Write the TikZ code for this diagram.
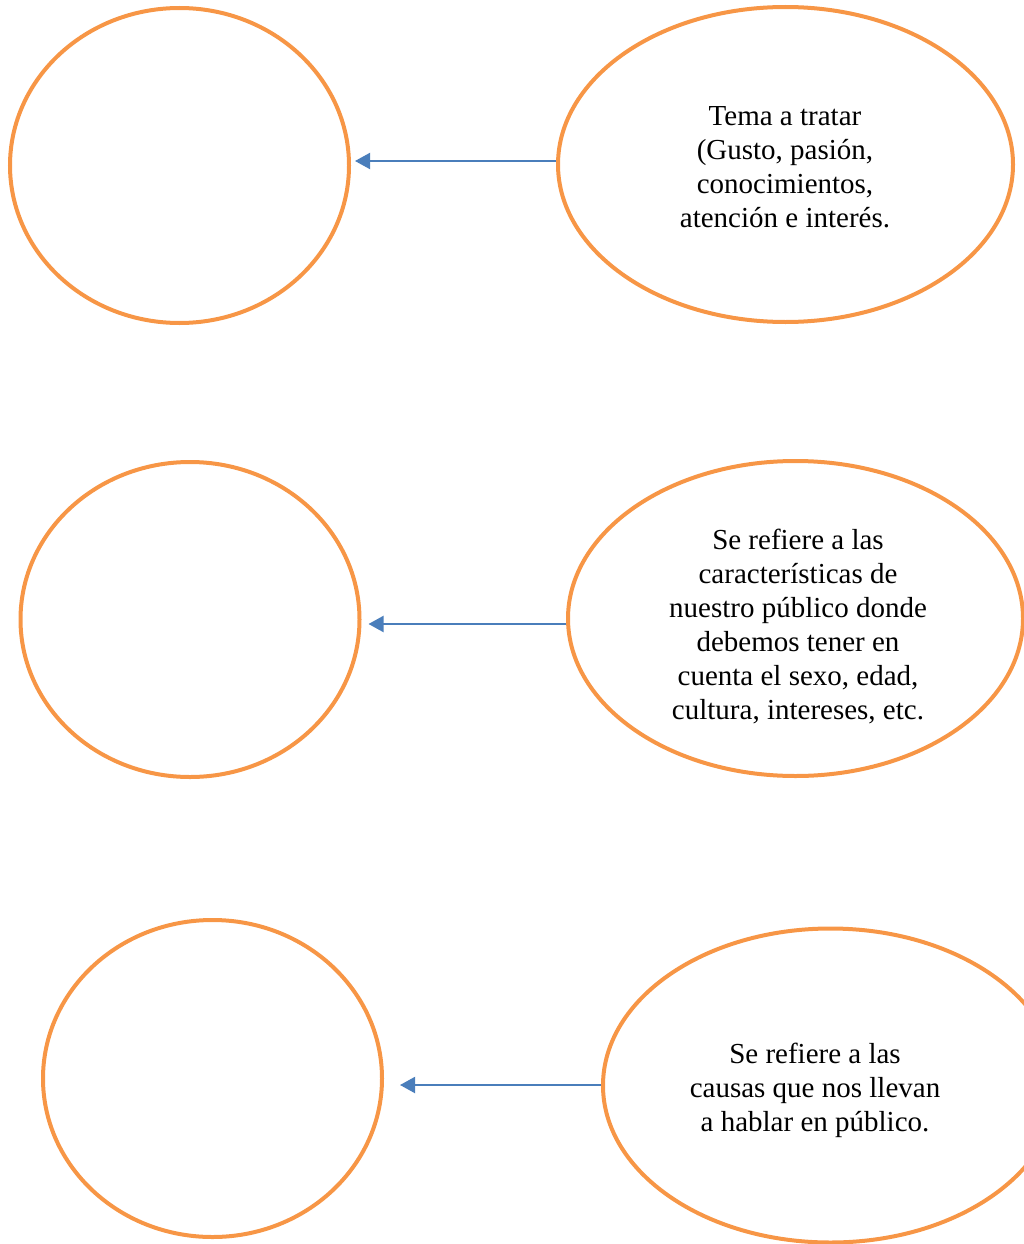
\documentclass[tikz,border=0pt]{standalone}
\usepackage{fontspec}
\setmainfont{Liberation Serif}
\usetikzlibrary{shapes.geometric,arrows.meta}
\definecolor{orng}{HTML}{F79646}
\definecolor{arblue}{HTML}{4A7EBB}
\begin{document}
\begin{tikzpicture}[x=1pt,y=-1pt,
  oval/.style={ellipse,draw=orng,line width=4pt,inner sep=0pt},
  smalloval/.style={oval,minimum width=339pt,minimum height=315pt},
  bigoval/.style={oval,minimum width=455pt,minimum height=315pt},
  txt/.style={align=center,font=\fontsize{29}{34}\selectfont,inner sep=0pt},
  arr/.style={draw=arblue,line width=2pt,-{Triangle[length=15pt,width=16pt]}}]
\useasboundingbox (0,0) rectangle (1023,1244);
% row 1
\node[smalloval] (l1) at (179.5,165.5) {};
\node[bigoval] (r1) at (785.5,164.5) {};
\node[txt] (t1) at (785,167) {Tema a tratar\\(Gusto, pasión,\\conocimientos,\\atención e interés.};
% row 2
\node[smalloval] (l2) at (190,619.5) {};
\node[bigoval] (r2) at (795.5,618.5) {};
\node[txt] (t2) at (798,627) {Se refiere a las\\características de\\nuestro público donde\\debemos tener en\\cuenta el sexo, edad,\\cultura, intereses, etc.};
% row 3
\node[smalloval,minimum height=317pt] (l3) at (212.5,1078.5) {};
\node[bigoval,minimum height=314pt] (r3) at (830.5,1085.5) {};
\node[txt] (t3) at (815,1090) {Se refiere a las\\causas que nos llevan\\a hablar en público.};
% arrows
\draw[arr,shorten >=4pt] (r1.west |- 0,161) -- (l1.east |- 0,161);
\draw[arr,shorten >=7pt] (r2.west |- 0,624) -- (l2.east |- 0,624);
\draw[arr,shorten >=16pt] (r3.west |- 0,1085) -- (l3.east |- 0,1085);
\end{tikzpicture}
\end{document}
